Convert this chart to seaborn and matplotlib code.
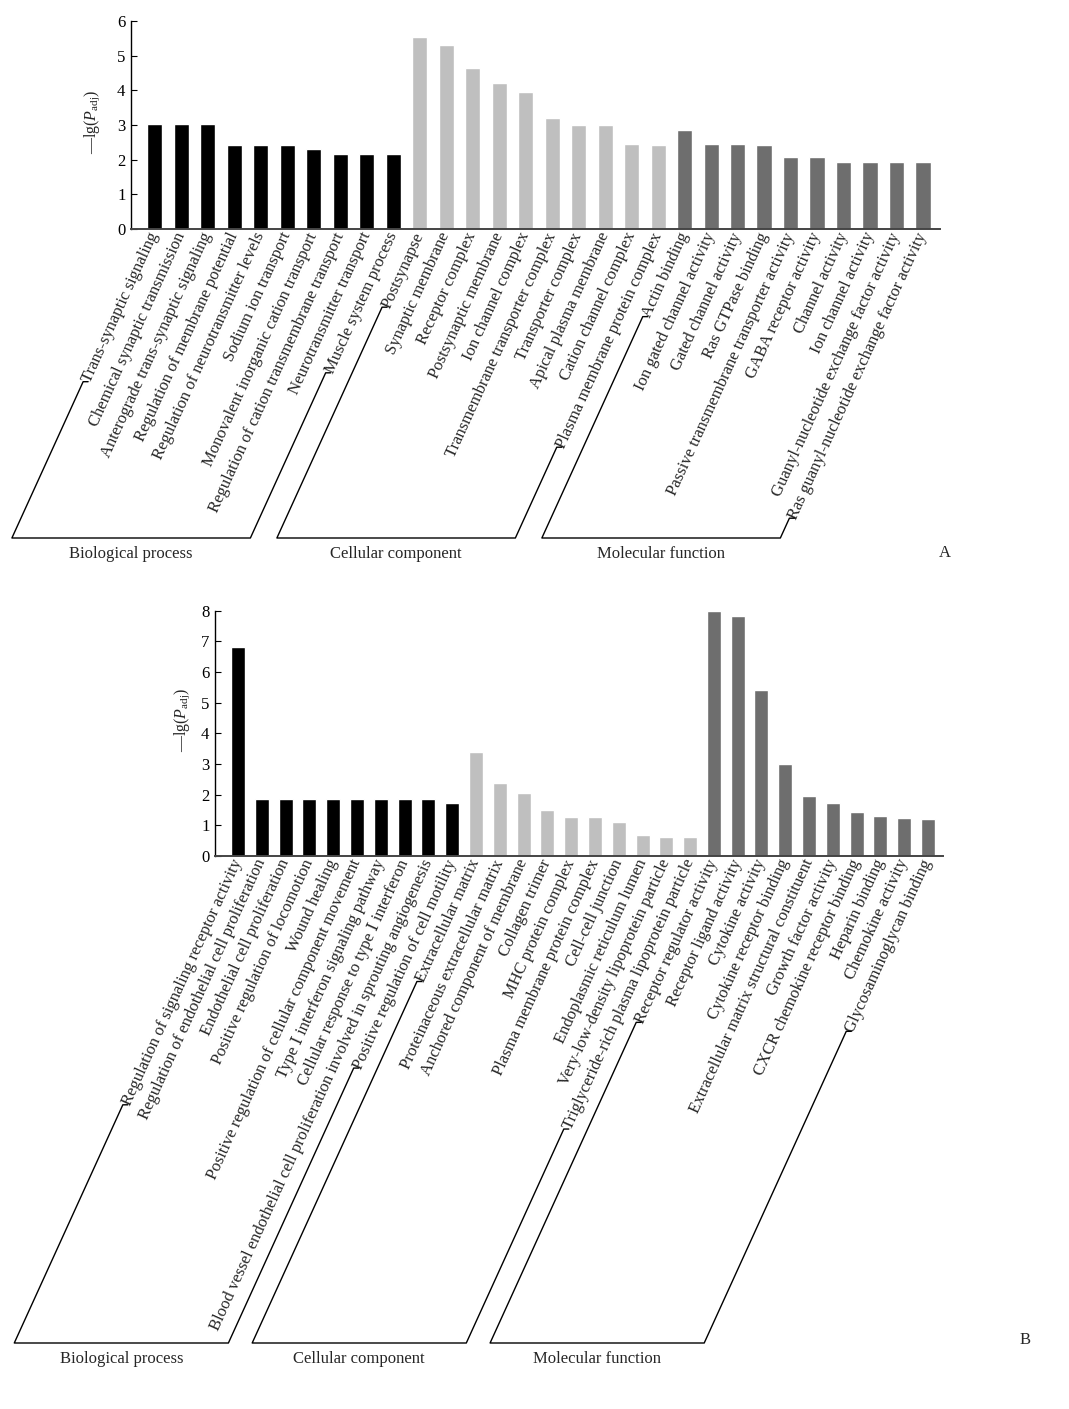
import numpy as np
import pandas as pd
import matplotlib
matplotlib.use("Agg")
import matplotlib.pyplot as plt
from matplotlib.lines import Line2D
import seaborn as sns

# ---------------- data ----------------
groups = ["Biological process", "Cellular component", "Molecular function"]

termsA_bp = ["Trans-synaptic signaling", "Chemical synaptic transmission",
             "Anterograde trans-synaptic signaling", "Regulation of membrane potential",
             "Regulation of neurotransmitter levels", "Sodium ion transport",
             "Monovalent inorganic cation transport", "Regulation of cation transmembrane transport",
             "Neurotransmitter transport", "Muscle system process"]
valsA_bp = [3.03, 3.03, 3.03, 2.42, 2.42, 2.42, 2.30, 2.16, 2.16, 2.16]
termsA_cc = ["Postsynapse", "Synaptic membrane", "Receptor complex", "Postsynaptic membrane",
             "Ion channel complex", "Transmembrane transporter complex", "Transporter complex",
             "Apical plasma membrane", "Cation channel complex", "Plasma membrane protein complex"]
valsA_cc = [5.55, 5.30, 4.65, 4.20, 3.95, 3.20, 3.00, 3.00, 2.45, 2.42]
termsA_mf = ["Actin binding", "Ion gated channel activity", "Gated channel activity",
             "Ras GTPase binding", "Passive transmembrane transporter activity",
             "GABA receptor activity", "Channel activity", "Ion channel activity",
             "Guanyl-nucleotide exchange factor activity",
             "Ras guanyl-nucleotide exchange factor activity"]
valsA_mf = [2.85, 2.45, 2.45, 2.42, 2.07, 2.07, 1.93, 1.93, 1.93, 1.93]

termsB_bp = ["Regulation of signaling receptor activity",
             "Regulation of endothelial cell proliferation",
             "Endothelial cell proliferation", "Positive regulation of locomotion",
             "Wound healing", "Positive regulation of cellular component movement",
             "Type \u2160 interferon signaling pathway",
             "Cellular response to type \u2160 interferon",
             "Blood vessel endothelial cell proliferation involved in sprouting angiogenesis",
             "Positive regulation of cell motility"]
valsB_bp = [6.80, 1.87, 1.87, 1.87, 1.87, 1.87, 1.87, 1.87, 1.87, 1.73]
termsB_cc = ["Extracellular matrix", "Proteinaceous extracellular matrix",
             "Anchored component of membrane", "Collagen trimer", "MHC protein complex",
             "Plasma membrane protein complex", "Cell-cell junction",
             "Endoplasmic reticulum lumen", "Very-low-density lipoprotein particle",
             "Triglyceride-rich plasma lipoprotein particle"]
valsB_cc = [3.40, 2.38, 2.05, 1.50, 1.28, 1.28, 1.12, 0.70, 0.63, 0.63]
termsB_mf = ["Receptor regulator activity", "Receptor ligand activity", "Cytokine activity",
             "Cytokine receptor binding", "Extracellular matrix structural constituent",
             "Growth factor activity", "CXCR chemokine receptor binding", "Heparin binding",
             "Chemokine activity", "Glycosaminoglycan binding"]
valsB_mf = [8.00, 7.83, 5.40, 3.00, 1.95, 1.73, 1.43, 1.30, 1.23, 1.20]

palette = {"Biological process": "#000000",
           "Cellular component": "#bfbfbf",
           "Molecular function": "#6e6e6e"}

# ---------------- style ----------------
sns.set_theme(style="white")
plt.rcParams["font.family"] = ["Liberation Serif", "DejaVu Serif", "Noto Sans CJK SC"]
plt.rcParams["mathtext.fontset"] = "custom"
plt.rcParams["mathtext.rm"] = "Liberation Serif"
plt.rcParams["mathtext.it"] = "Liberation Serif:italic"

W, H, DPI = 1069, 1409, 100
fig = plt.figure(figsize=(W / DPI, H / DPI), dpi=DPI)
FS = 12
ROT = 65.5


def make_df(tl, vl):
    terms, vals, grp = [], [], []
    for g, t, v in zip(groups, tl, vl):
        terms += t
        vals += v
        grp += [g] * len(t)
    return pd.DataFrame({"term": terms, "value": vals, "group": grp})


def draw_panel(rect, df, ymax, xlim, width, ylabel_xy):
    ax = fig.add_axes(rect)
    sns.barplot(data=df, x="term", y="value", hue="group", palette=palette,
                dodge=False, width=width, saturation=1, legend=False, ax=ax)
    ax.set_xlim(*xlim)
    ax.set_ylim(0, ymax)
    ax.set_yticks(range(0, ymax + 1))
    ax.set_xlabel("")
    ax.set_ylabel("\u2014" + r"$\mathrm{lg}(P_{\mathrm{adj}})$", fontsize=11.5)
    ax.yaxis.set_label_coords(*ylabel_xy)
    for s in ["top", "right"]:
        ax.spines[s].set_visible(False)
    ax.spines["left"].set_color("black")
    ax.spines["left"].set_linewidth(1.0)
    ax.spines["bottom"].set_color("#444444")
    ax.spines["bottom"].set_linewidth(1.4)
    ax.tick_params(axis="y", direction="in", length=4, width=0.8, labelsize=12,
                   left=True, pad=4, colors="black")
    ax.tick_params(axis="x", length=0, pad=3)
    for lab in ax.get_xticklabels():
        lab.set_rotation(ROT)
        lab.set_ha("right")
        lab.set_va("center")
        lab.set_rotation_mode("anchor")
        lab.set_fontsize(FS)
    return ax


def add_brackets(ax, n_per_group, bottom_px, letter, letter_xy):
    fig.canvas.draw()
    r = fig.canvas.get_renderer()
    labs = ax.get_xticklabels()
    th = np.deg2rad(ROT)
    thb = np.deg2rad(65.5)
    s, c = np.sin(th), np.cos(th)
    hpx = FS * DPI / 72.0
    yb = H - bottom_px

    def start_center(lab):
        bb = lab.get_window_extent(r)
        return bb.x0 + hpx * s * 0.5, bb.y0 + hpx * c * 0.5

    i0 = 0
    for g, n in zip(groups, n_per_group):
        first, last = labs[i0], labs[i0 + n - 1]
        pts = []
        for lab in [first, last]:
            sx, sy = start_center(lab)
            tx, ty = sx - 4, sy
            bx = tx - (ty - yb) / np.tan(thb)
            pts.append(((sx + 1, sy), (tx, ty), (bx, yb)))
        (a1, a2, a3), (b1, b2, b3) = pts
        xs = [a1[0], a2[0], a3[0], b3[0], b2[0], b1[0]]
        ys = [a1[1], a2[1], a3[1], b3[1], b2[1], b1[1]]
        fig.add_artist(Line2D(np.array(xs) / W, np.array(ys) / H,
                              transform=fig.transFigure, color="black", lw=1.0))
        fig.text((a3[0] + b3[0]) / 2 / W, (yb - 16) / H, g, ha="center", va="center",
                 fontsize=FS)
        i0 += n
    fig.text(letter_xy[0] / W, 1 - letter_xy[1] / H, letter, ha="center", va="center",
             fontsize=FS)


dfA = make_df([termsA_bp, termsA_cc, termsA_mf], [valsA_bp, valsA_cc, valsA_mf])
dfB = make_df([termsB_bp, termsB_cc, termsB_mf], [valsB_bp, valsB_cc, valsB_mf])

axA = draw_panel([131 / W, 1 - 229 / H, (940 - 131) / W, 208 / H], dfA, 6,
                 (-0.89, 29.64), 0.57, (-0.036, 0.514))
axB = draw_panel([215 / W, 1 - 856 / H, (943 - 215) / W, 245.3 / H], dfB, 8,
                 (-0.97, 29.63), 0.59, (-0.032, 0.555))

add_brackets(axA, [len(termsA_bp), len(termsA_cc), len(termsA_mf)], 538, "A", (945, 553))
add_brackets(axB, [len(termsB_bp), len(termsB_cc), len(termsB_mf)], 1343, "B", (1025, 1340))

fig.savefig("out.png", dpi=DPI)
